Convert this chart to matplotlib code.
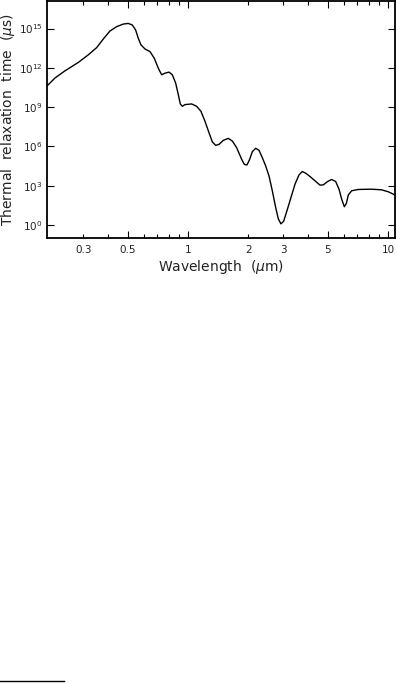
import numpy as np
import matplotlib
matplotlib.use('Agg')
import matplotlib.pyplot as plt
from matplotlib.ticker import FixedLocator, FixedFormatter, NullFormatter
from matplotlib.lines import Line2D

# longitud de onda (um) y log10 del tiempo de relajacion (us)
wavelength = [0.1987, 0.2163, 0.2427, 0.2829, 0.3174, 0.3494, 0.3773, 0.4074, 0.4397, 0.4749,
              0.5030, 0.5267, 0.5473, 0.5645, 0.5821, 0.6095, 0.6457, 0.6786, 0.7106, 0.7384,
              0.7674, 0.8035, 0.8350, 0.8676, 0.8946, 0.9155, 0.9368, 0.9660, 1.043, 1.105,
              1.161, 1.216, 1.274, 1.323, 1.375, 1.429, 1.502, 1.591, 1.666, 1.751,
              1.855, 1.913, 1.972, 2.034, 2.097, 2.180, 2.265, 2.353, 2.445, 2.541,
              2.640, 2.744, 2.829, 2.917, 3.008, 3.126, 3.273, 3.428, 3.589, 3.730,
              3.876, 4.074, 4.315, 4.571, 4.750, 4.993, 5.228, 5.474, 5.689, 5.866,
              6.049, 6.191, 6.335, 6.583, 7.107, 8.287, 9.297, 10.04, 10.63, 11.05]
log_tau = [10.66, 11.22, 11.77, 12.41, 12.99, 13.54, 14.20, 14.81, 15.14, 15.34,
           15.39, 15.27, 14.89, 14.25, 13.75, 13.44, 13.24, 12.73, 11.97, 11.47,
           11.59, 11.67, 11.47, 10.84, 9.95, 9.24, 9.06, 9.19, 9.24, 9.06,
           8.68, 7.92, 7.04, 6.35, 6.08, 6.15, 6.46, 6.61, 6.41, 5.90,
           5.01, 4.63, 4.58, 5.01, 5.59, 5.85, 5.70, 5.14, 4.51, 3.75,
           2.61, 1.34, 0.46, 0.08, 0.28, 1.09, 2.10, 3.11, 3.82, 4.08,
           3.95, 3.70, 3.37, 3.04, 3.06, 3.32, 3.47, 3.32, 2.73, 1.97,
           1.39, 1.65, 2.30, 2.61, 2.71, 2.73, 2.68, 2.53, 2.35, 2.18]

x_major = [0.5, 1, 5, 10]
x_minor = [0.3, 0.4, 0.6, 0.7, 0.8, 0.9, 2, 3, 4, 6, 7, 8, 9]
x_labels = ['0.3', '0.5', '1', '2', '3', '5', '10']
x_label_pos = [0.3, 0.5, 1, 2, 3, 5, 10]
y_ticks = [1e0, 1e3, 1e6, 1e9, 1e12, 1e15]
y_labels = ['$10^{0}$', '$10^{3}$', '$10^{6}$', '$10^{9}$', '$10^{12}$', '$10^{15}$']

plt.rcParams['font.family'] = ['DejaVu Sans']
plt.rcParams['mathtext.fontset'] = 'dejavusans'

fig = plt.figure(figsize=(3.97, 6.83), dpi=100)
ax = fig.add_axes([0.118, 0.6515, 0.877, 0.347])

tau = 10 ** np.array(log_tau)
ax.plot(wavelength, tau, color='black', lw=1.0)

ax.set_xscale('log')
ax.set_yscale('log')
ax.set_xlim(0.197, 10.84)
ax.set_ylim(10 ** -1.0, 10 ** 17.1)

# ticks del eje x
ax.xaxis.set_major_locator(FixedLocator(x_major))
ax.xaxis.set_minor_locator(FixedLocator(x_minor))
ax.xaxis.set_major_formatter(NullFormatter())
ax.xaxis.set_minor_formatter(NullFormatter())
for xp, lab in zip(x_label_pos, x_labels):
    ax.text(xp, -0.03, lab, transform=ax.get_xaxis_transform(),
            ha='center', va='top', fontsize=7.5, color='#222222')

ax.yaxis.set_major_locator(FixedLocator(y_ticks))
ax.yaxis.set_major_formatter(FixedFormatter(y_labels))
ax.yaxis.set_minor_locator(FixedLocator([]))

ax.tick_params(which='both', direction='in', top=True, right=True, labelsize=7.5,
               labelcolor='#222222')
ax.tick_params(which='major', length=5, width=0.8)
ax.tick_params(which='minor', length=3, width=0.8)
ax.tick_params(axis='y', pad=3)
for s in ax.spines.values():
    s.set_linewidth(1.3)

ax.set_xlabel('Wavelength  ($\\mu$m)', fontsize=10, labelpad=11, color='#222222')
ax.set_ylabel('Thermal  relaxation  time  ($\\mu$s)', fontsize=10, labelpad=1,
              color='#222222')

# linea corta de nota al pie
fig.add_artist(Line2D([0.0, 0.16], [0.003, 0.003], color='black', lw=1.0,
                      transform=fig.transFigure))

fig.savefig('out.png', dpi=100)
print("fin de programa")
